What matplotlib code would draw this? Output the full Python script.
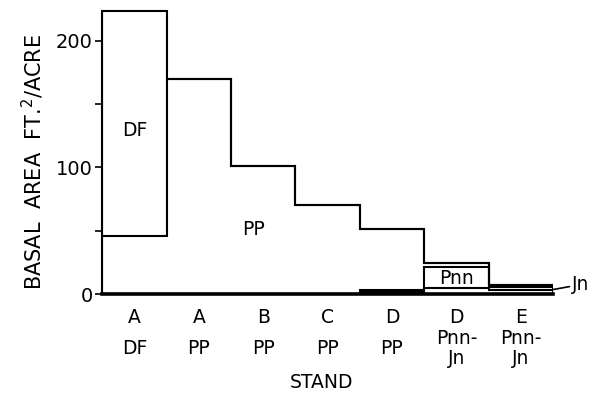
import numpy as np
import matplotlib
matplotlib.use("Agg")
import matplotlib.pyplot as plt
from matplotlib.transforms import blended_transform_factory

# Data (basal area, ft^2/acre), stacked bottom -> top: Jn, Pnn, PP, DF
stand_letters = ["A", "A", "B", "C", "D", "D", "E"]
stand_types = ["DF", "PP", "PP", "PP", "PP", "Pnn-\nJn", "Pnn-\nJn"]
jn = [0, 0, 0, 0, 1.5, 5, 3]
pnn = [0, 0, 0, 0, 2, 16, 2.5]
pp = [46, 170, 101, 70, 47.5, 3.5, 2]
df = [178, 0, 0, 0, 0, 0, 0]

plt.rcParams['font.family'] = ['DejaVu Sans']

fig = plt.figure(figsize=(6.05, 4.0), dpi=100)
ax = fig.add_axes([0.169, 0.265, 0.745, 0.7275])

n = len(stand_letters)
edges = np.arange(n + 1) - 0.5
c1 = np.array(jn, float)
c2 = c1 + np.array(pnn, float)
c3 = c2 + np.array(pp, float)
c4 = c3 + np.array(df, float)

lw = 1.5
ax.stairs(c1, edges, baseline=None, color="black", lw=lw)
ax.stairs(c2, edges, baseline=None, color="black", lw=lw)
ax.stairs(c3, edges, baseline=None, color="black", lw=lw)
ax.stairs(c4, edges, baseline=0, color="black", lw=lw)

ax.set_xlim(edges[0], edges[-1])
ax.set_ylim(0, 230)

for s in ["top", "right"]:
    ax.spines[s].set_visible(False)
ax.spines["left"].set_bounds(0, c4[0])
ax.spines["left"].set_linewidth(1.5)
ax.spines["bottom"].set_linewidth(2.6)

ax.set_yticks([0, 50, 100, 150, 200])
ax.set_yticklabels(["0", "", "100", "", "200"], fontsize=14)
ax.tick_params(axis="y", direction="out", length=5, width=1.2, pad=2)
ax.set_xticks(np.arange(n))
ax.set_xticklabels(stand_letters, fontsize=13.5)
ax.tick_params(axis="x", length=0, pad=10)

trans = blended_transform_factory(ax.transData, fig.transFigure)
for i, t in enumerate(stand_types):
    ax.text(i, 0.128, t, transform=trans, ha="center", va="center",
            fontsize=13.5, linespacing=1.05)
fig.text((ax.get_position().x0 + ax.get_position().x1) / 2 - 0.01, 0.045,
         "STAND", ha="center", va="center", fontsize=13.5)

ax.set_ylabel("BASAL  AREA  FT.$^{\\mathregular{2}}$/ACRE", fontsize=15)
ax.yaxis.set_label_coords(-0.125, 0.455)

# in-chart labels
ax.text(0, 129, "DF", ha="center", va="center", fontsize=13.5)
ax.text(1.85, 51, "PP", ha="center", va="center", fontsize=13.5)
ax.text(5, 12, "Pnn", ha="center", va="center", fontsize=13.5)
ax.annotate("Jn", xy=(edges[-1], c1[-1] + 0.5), xytext=(edges[-1] + 0.3, 7.5),
            ha="left", va="center", fontsize=13.5, annotation_clip=False,
            arrowprops=dict(arrowstyle="-", color="black", lw=1.2,
                            shrinkA=0, shrinkB=0))

fig.savefig("out.png", dpi=100)
